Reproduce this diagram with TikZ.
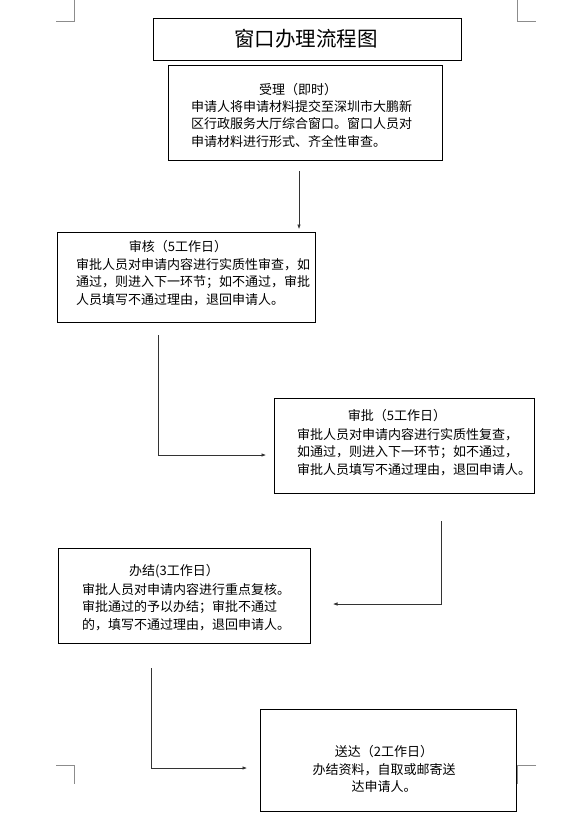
\documentclass[tikz,border=0pt]{standalone}
\usepackage{fontspec}
\setmainfont{Noto Sans CJK SC}
\usetikzlibrary{arrows.meta}
\tikzset{
  box/.style={draw=black, line width=0.9pt, inner sep=0pt},
  txt/.style={inner sep=0pt, align=left, font=\fontsize{13}{17.4}\selectfont},
  head/.style={inner sep=0pt, font=\fontsize{13}{15}\selectfont},
  conn/.style={draw=black!80, line width=0.6pt, -{Latex[length=4.5pt,width=3.5pt]}},
  crop/.style={draw=black!45, line width=0.6pt}
}
\begin{document}
\begin{tikzpicture}[x=1pt,y=-1pt]
\useasboundingbox (0,0) rectangle (571,823);
\fill[white] (0,0) rectangle (571,823);
% crop marks
\draw[crop] (74,0) -- (74,21) -- (56,21);
\draw[crop] (517,0) -- (517,21) -- (536,21);
\draw[crop] (56,765) -- (74,765) -- (74,784);
\draw[crop] (536,765) -- (517,765) -- (517,784);
% title
\node[box, minimum width=308, minimum height=42] (title) at (307,39) {};
\node[inner sep=0pt, font=\fontsize{20.5}{24}\selectfont] (titletext) at (306,39) {窗口办理流程图};
% box 1
\node[box, minimum width=274, minimum height=95] (b1) at (305,112.5) {};
\node[head] (h1) at (298,90) {受理（即时）};
\node[txt, anchor=north west] (t1) at (191,100) {申请人将申请材料提交至深圳市大鹏新\\区行政服务大厅综合窗口。窗口人员对\\申请材料进行形式、齐全性审查。};
% box 2
\node[box, minimum width=258, minimum height=90] (b2) at (186,277) {};
\node[head] (h2) at (178,247) {审核（5工作日）};
\node[txt, anchor=north west] (t2) at (76,258) {审批人员对申请内容进行实质性审查，如\\通过，则进入下一环节；如不通过，审批\\人员填写不通过理由，退回申请人。};
% box 3
\node[box, minimum width=260, minimum height=95] (b3) at (404,445.5) {};
\node[head] (h3) at (397,416) {审批（5工作日）};
\node[txt, anchor=north west] (t3) at (297,428) {审批人员对申请内容进行实质性复查，\\如通过，则进入下一环节；如不通过，\\审批人员填写不通过理由，退回申请人。};
% box 4
\node[box, minimum width=252, minimum height=95] (b4) at (184,595.5) {};
\node[head] (h4) at (174,571) {办结(3工作日）};
\node[txt, anchor=north west] (t4) at (82,583) {审批人员对申请内容进行重点复核。\\审批通过的予以办结；审批不通过\\的，填写不通过理由，退回申请人。};
% box 5
\node[box, minimum width=256, minimum height=102] (b5) at (388,760) {};
\node[txt, align=center, anchor=center] (t5) at (384,769) {送达（2工作日）\\办结资料，自取或邮寄送\\达申请人。};
% connectors
\coordinate (a1s) at (299,171);
\coordinate (a1e) at (299,229);
\draw[conn] (a1s) -- (a1e);
\coordinate (a2s) at (158,335);
\coordinate (a2e) at (266,455);
\draw[conn] (a2s) |- (a2e);
\coordinate (a3s) at (441,521);
\coordinate (a3e) at (333,604);
\draw[conn] (a3s) |- (a3e);
\coordinate (a4s) at (151,668);
\coordinate (a4e) at (247,768);
\draw[conn] (a4s) |- (a4e);
\end{tikzpicture}
\end{document}
